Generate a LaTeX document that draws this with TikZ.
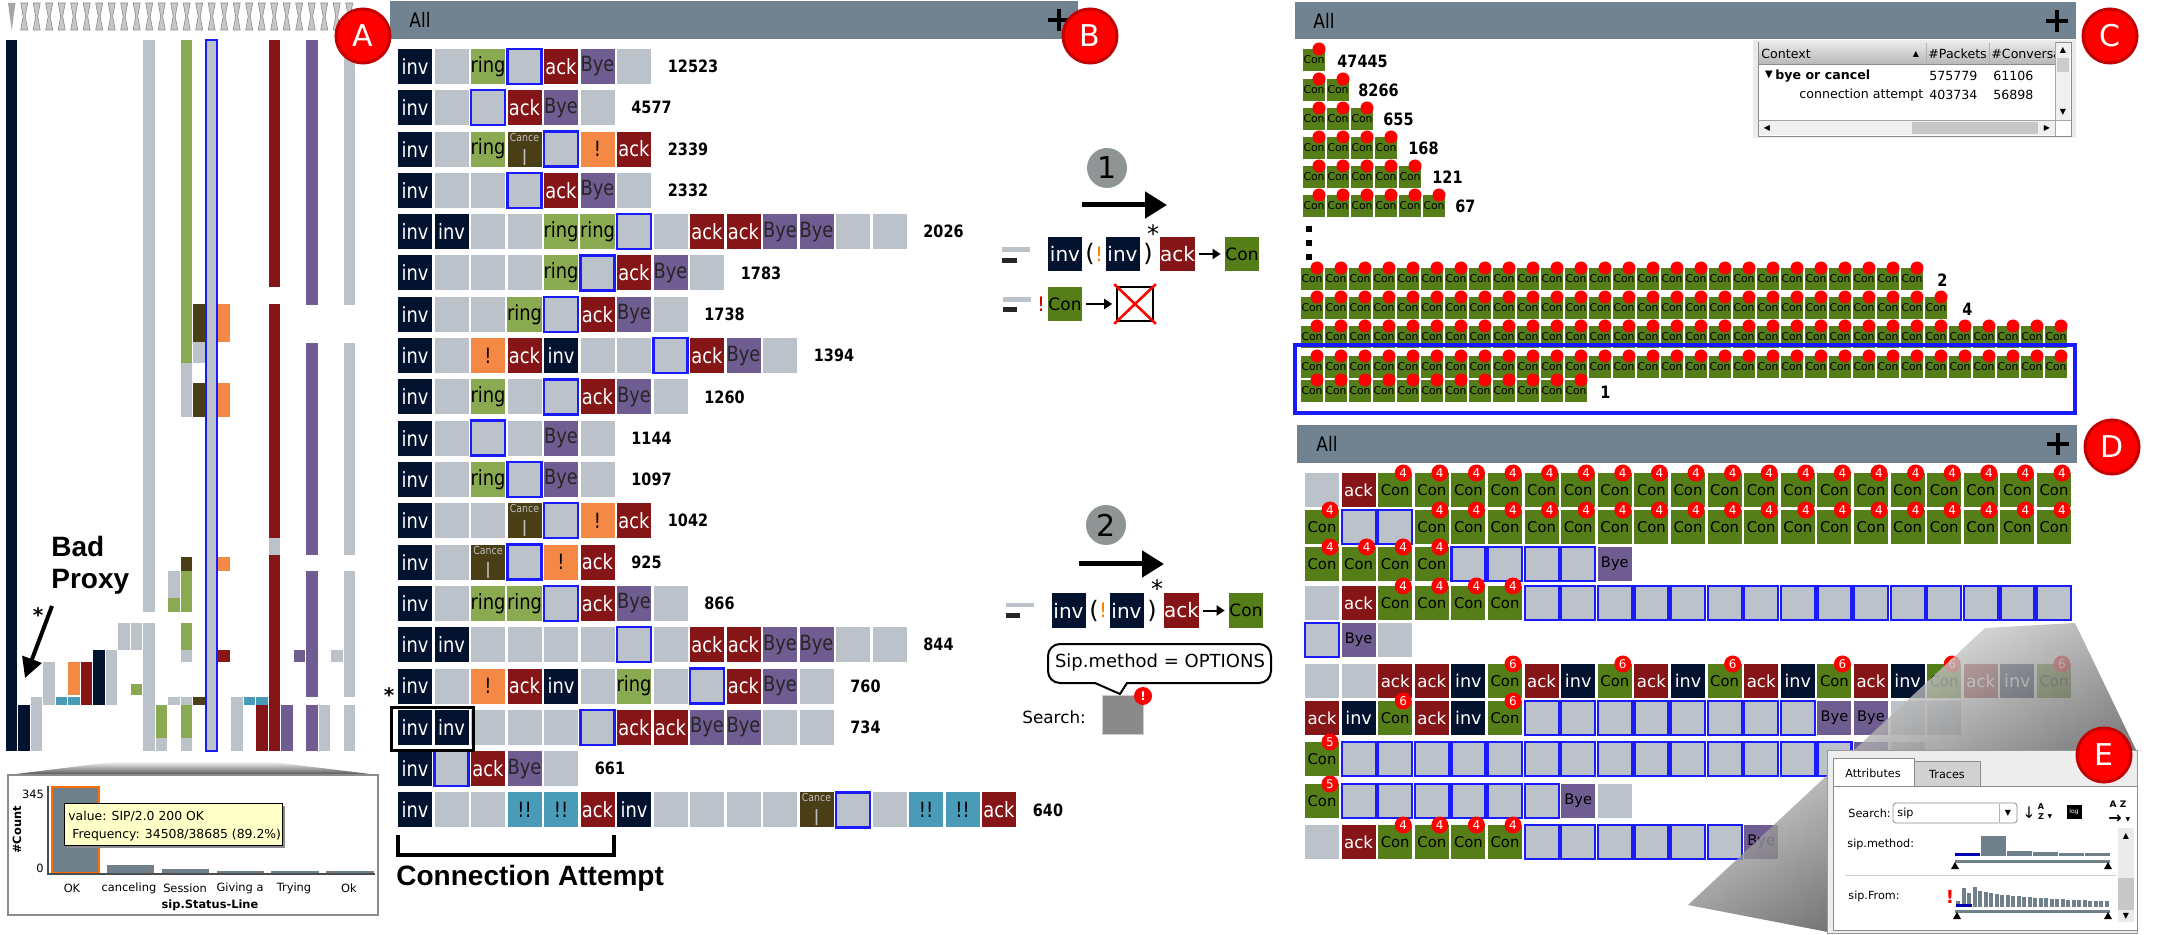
\documentclass[tikz,border=0pt]{standalone}
\usepackage{fontspec}
\setmainfont{DejaVu Sans}
\newfontfamily\cellfont[FakeStretch=0.85]{DejaVu Sans}
\newfontfamily\arialf{Liberation Sans}
\usetikzlibrary{arrows.meta}
\definecolor{cinv}{HTML}{03122F}
\definecolor{cgray}{HTML}{BBC2C9}
\definecolor{cring}{HTML}{8AAA52}
\definecolor{ccan}{HTML}{4A3E16}
\definecolor{cack}{HTML}{861517}
\definecolor{cbye}{HTML}{6F5C91}
\definecolor{cexc}{HTML}{F48945}
\definecolor{cdexc}{HTML}{4A9BB7}
\definecolor{ccon}{HTML}{567E18}
\definecolor{chead}{HTML}{718391}
\definecolor{cblue}{HTML}{1A1AFF}
\definecolor{cred}{HTML}{FF0000}
\definecolor{credd}{HTML}{C40000}
\definecolor{cbar}{HTML}{6F808B}
\definecolor{ctip}{HTML}{FFFFC8}
\definecolor{cnum}{HTML}{8F9494}
\tikzset{
  bcell/.style={minimum width=17pt, minimum height=17.5pt, inner sep=0pt, outer sep=0pt, font={\cellfont\fontsize{10.5}{12}\selectfont}},
  bI/.style={bcell, fill=cinv, text=white, node contents={inv}},
  bG/.style={bcell, fill=cgray, node contents={}},
  bR/.style={bcell, fill=cring, text=black, node contents={ring}},
  bC/.style={bcell, fill=ccan, text=black!25, align=center, node contents={\fontsize{5.5}{6}\selectfont Cance\\l}},
  bS/.style={bcell, fill=cgray, draw=cblue, line width=1.2pt, node contents={}},
  bA/.style={bcell, fill=cack, text=white, node contents={ack}},
  bY/.style={bcell, fill=cbye, text=black!85, node contents={Bye}},
  bX/.style={bcell, fill=cexc, text=black, node contents={!}},
  bT/.style={bcell, fill=cdexc, text=black, node contents={!!}},
  numtxt/.style={inner sep=0pt, font={\cellfont\bfseries\fontsize{8.5}{10}\selectfont}},
  dcell/.style={minimum width=17pt, minimum height=17pt, inner sep=0pt, outer sep=0pt},
  dG/.style={dcell, fill=cgray, node contents={}},
  dS/.style={dcell, fill=cgray, draw=cblue, line width=1.1pt, node contents={}},
  dA/.style={dcell, fill=cack, text=white, font=\fontsize{8.3}{9}\selectfont, node contents={ack}},
  dI/.style={dcell, fill=cinv, text=white, font=\fontsize{8.8}{9}\selectfont, node contents={inv}},
  dY/.style={dcell, fill=cbye, text=black, font=\fontsize{7.3}{8}\selectfont, node contents={Bye}},
  dcon/.style={dcell, fill=ccon, text=black, font=\fontsize{7.4}{8}\selectfont, node contents={Con}},
  badge/.style={circle, fill=cred, text=white, inner sep=0pt, minimum size=8.5pt, font=\fontsize{6}{6}\selectfont, anchor=center, xshift=-4.5pt},
  d4/.style={dcon, label={[badge]north east:4}},
  d5/.style={dcon, label={[badge]north east:5}},
  d6/.style={dcon, label={[badge]north east:6}},
  cdot/.style={circle, fill=cred, inner sep=0pt, minimum size=6.5pt, anchor=center, xshift=-3pt},
  ccell/.style={minimum width=11pt, minimum height=11pt, inner sep=0pt, outer sep=0pt, fill=ccon, text=black, font=\fontsize{5.4}{6}\selectfont, node contents={Con}, label={[cdot]north east:{}}},
  rcell/.style={minimum width=17pt, minimum height=17pt, inner sep=0pt, font=\fontsize{10}{10}\selectfont},
  lbl/.style={circle, fill=cred, draw=credd, line width=1.5pt, minimum size=27pt, inner sep=0pt, text=white, font=\fontsize{15}{15}\selectfont},
  numc/.style={circle, fill=cnum, minimum size=20pt, inner sep=0pt, font=\fontsize{15}{15}\selectfont},
  hdr/.style={inner sep=0pt, anchor=west, font={\cellfont\fontsize{10}{10}\selectfont}},
  tbl/.style={inner sep=0pt, font=\fontsize{6.3}{7}\selectfont},
  small/.style={inner sep=0pt, font=\fontsize{5.7}{6}\selectfont},
  epan/.style={inner sep=0pt, font=\fontsize{5.6}{6}\selectfont},
  bigarrow/.style={line width=2.5pt, -{Triangle[length=11pt,width=13pt]}},
  smallarrow/.style={line width=1pt, -{Triangle[length=4pt,width=5pt]}, shorten <=2pt, shorten >=2pt},
}
\newcommand\brow[4]{%
  \pgfmathsetmacro\ytop{49+41.3*(#1-1)}%
  \foreach \cc [count=\i from 0] in {#2} {\node[b\cc, name=b#1-\i, at={({398+36.5*\i+17},{\ytop+17.5})}];}%
  \node[numtxt, anchor=west] (bn#1) at ({398+36.5*#3+14},{\ytop+17.5}) {#4};%
}
\newcommand\drow[2]{%
  \foreach \cc [count=\i from 0] in {#2} {\node[d\cc, name=d#1-\i, at={({1305+36.6*\i+17},{#1+17})}];}%
}
\newcommand\crow[3]{%
  \foreach \i in {1,...,#3} {\node[ccell, name=c#2-\i, at={({#1+24*(\i-1)+11},{#2+11})}];}%
}
\begin{document}
\begin{tikzpicture}[x=0.5pt,y=-0.5pt]
\useasboundingbox (0,0) rectangle (2159,935);
\fill[white] (0,0) rectangle (2159,935);

% ===== Panel A =====
\fill[black!35] (8,3) -- (15.5,3) -- (11.7,30) -- cycle;
\foreach \k in {1,...,27} {
  \filldraw[fill=black!22, draw=black!45, line width=0.3pt]
    ({11.7+12.5*\k-3.5},3) -- ({11.7+12.5*\k+3.5},3) -- ({11.7+12.5*\k+1},16.5) -- ({11.7+12.5*\k+3.5},30)
    -- ({11.7+12.5*\k-3.5},30) -- ({11.7+12.5*\k-1},16.5) -- cycle;
}
\fill[cinv] (6,40) rectangle (17,751);
\fill[cinv] (18,705) rectangle (30,751);
\fill[cgray] (31,697) rectangle (42,751);
\fill[cgray] (43,662) rectangle (55,705);
\fill[cdexc] (56,697) rectangle (67,705);
\fill[cdexc] (68,697) rectangle (80,705);
\fill[cexc] (68,662) rectangle (80,695);
\fill[cack] (81,662) rectangle (92,705);
\fill[cinv] (93,650) rectangle (105,705);
\fill[cgray] (106,650) rectangle (117,705);
\fill[cgray] (118,623) rectangle (130,650);
\fill[cgray] (131,623) rectangle (142,650);
\fill[cring] (131,684) rectangle (142,695);
\fill[cgray] (143,40) rectangle (155,612);
\fill[cgray] (143,623) rectangle (155,751);
\fill[cring] (156,705) rectangle (167,738);
\fill[cgray] (156,738) rectangle (167,751);
\fill[cgray] (168,571) rectangle (180,598);
\fill[cring] (168,598) rectangle (180,612);
\fill[cgray] (168,697) rectangle (180,705);
\fill[cring] (181,40) rectangle (192,363);
\fill[cgray] (181,363) rectangle (192,417);
\fill[ccan] (181,557) rectangle (192,571);
\fill[cring] (181,571) rectangle (192,612);
\fill[cring] (181,623) rectangle (192,650);
\fill[cgray] (181,650) rectangle (192,662);
\fill[cgray] (181,697) rectangle (192,705);
\fill[cring] (181,705) rectangle (192,738);
\fill[cgray] (181,738) rectangle (192,751);
\fill[ccan] (193,304) rectangle (205,342);
\fill[cgray] (193,342) rectangle (205,363);
\fill[ccan] (193,383) rectangle (205,417);
\fill[ccan] (193,697) rectangle (205,705);
\draw[cblue, fill=cgray, line width=1pt] (206,40) rectangle (217,751);
\fill[cexc] (218,304) rectangle (230,342);
\fill[cexc] (218,383) rectangle (230,417);
\fill[cexc] (218,557) rectangle (230,571);
\fill[cack] (218,650) rectangle (230,662);
\fill[cgray] (231,697) rectangle (243,751);
\fill[cdexc] (244,697) rectangle (255,705);
\fill[cdexc] (256,697) rectangle (268,705);
\fill[cack] (256,705) rectangle (268,751);
\fill[cack] (269,40) rectangle (280,287);
\fill[cack] (269,304) rectangle (280,538);
\fill[cgray] (269,538) rectangle (280,555);
\fill[cack] (269,555) rectangle (280,751);
\fill[cbye] (281,705) rectangle (293,751);
\fill[cbye] (294,650) rectangle (305,662);
\fill[cbye] (306,40) rectangle (318,305);
\fill[cbye] (306,343) rectangle (318,555);
\fill[cbye] (306,571) rectangle (318,697);
\fill[cbye] (306,705) rectangle (318,751);
\fill[cgray] (319,705) rectangle (330,751);
\fill[cgray] (331,650) rectangle (343,662);
\fill[cgray] (344,40) rectangle (355,305);
\fill[cgray] (344,343) rectangle (355,555);
\fill[cgray] (344,571) rectangle (355,697);
\fill[cgray] (344,705) rectangle (355,751);

\node[inner sep=0pt, anchor=west, font={\arialf\bfseries\fontsize{14}{14}\selectfont}] (bad) at (51,546) {Bad};
\node[inner sep=0pt, anchor=west, font={\arialf\bfseries\fontsize{14}{14}\selectfont}] (proxy) at (51,582) {Proxy};
\coordinate (bpS) at (52,606);
\coordinate (bpE) at (25,678);
\draw[line width=2pt, -{Triangle[length=10pt,width=10pt]}] (bpS) -- (bpE);
\node[inner sep=0pt, font=\bfseries\fontsize{10}{10}\selectfont] (bpstar) at (38,615) {*};

% histogram box
\shade[top color=white, bottom color=black!70] (120,761) -- (265,761) -- (378,775) -- (8,775) -- cycle;
\draw[black!45, fill=white, line width=1pt] (8,775) rectangle (378,915);
\fill[cbar] (52,787) rectangle (99,873);
\draw[orange!85!red, line width=0.8pt] (52,787) rectangle (99,873);
\fill[cbar] (107,865) rectangle (154,873);
\fill[cbar] (162,869) rectangle (209,873);
\fill[cbar] (217,871) rectangle (264,873);
\fill[cbar] (271,871) rectangle (319,873);
\fill[cbar] (326,871) rectangle (374,873);
\draw[black!70, line width=1pt] (48,786) -- (48,874) -- (375,874);
\node[small] (h345) at (33,794) {345};
\node[small] (h0) at (40,868) {0};
\node[small, rotate=90, font=\bfseries\fontsize{5.7}{6}\selectfont] (hcount) at (17,830) {\#Count};
\node[small] (hl1) at (72,888) {OK};
\node[small] (hl2) at (129,888) {canceling};
\node[small] (hl3) at (185,888) {Session};
\node[small] (hl4) at (240,888) {Giving a};
\node[small] (hl5) at (294,888) {Trying};
\node[small] (hl6) at (349,888) {Ok};
\node[small, font=\bfseries\fontsize{5.7}{6}\selectfont] (hxl) at (210,905) {sip.Status-Line};
\fill[black!45] (67,806) rectangle (285,848);
\draw[black, fill=ctip, line width=0.5pt] (64,803) rectangle (282,845);
\node[inner sep=0pt, anchor=west, font=\fontsize{6.2}{7}\selectfont] (tip1) at (68,816) {value: SIP/2.0 200 OK};
\node[inner sep=0pt, anchor=west, font=\fontsize{6.2}{7}\selectfont] (tip2) at (72,835) {Frequency: 34508/38685 (89.2\%)};

% ===== Panel B =====
\fill[chead] (390,1) rectangle (1078,39);
\node[hdr] (ballt) at (409,20) {All};
\draw[line width=2pt] (1048,20) -- (1070,20) (1059,9) -- (1059,31);
\brow{1}{I,G,R,S,A,Y,G}{7}{12523}
\brow{2}{I,G,S,A,Y,G}{6}{4577}
\brow{3}{I,G,R,C,S,X,A}{7}{2339}
\brow{4}{I,G,G,S,A,Y,G}{7}{2332}
\brow{5}{I,I,G,G,R,R,S,G,A,A,Y,Y,G,G}{14}{2026}
\brow{6}{I,G,G,G,R,S,A,Y,G}{9}{1783}
\brow{7}{I,G,G,R,S,A,Y,G}{8}{1738}
\brow{8}{I,G,X,A,I,G,G,S,A,Y,G}{11}{1394}
\brow{9}{I,G,R,G,S,A,Y,G}{8}{1260}
\brow{10}{I,G,S,G,Y,G}{6}{1144}
\brow{11}{I,G,R,S,Y,G}{6}{1097}
\brow{12}{I,G,G,C,S,X,A}{7}{1042}
\brow{13}{I,G,C,S,X,A}{6}{925}
\brow{14}{I,G,R,R,S,A,Y,G}{8}{866}
\brow{15}{I,I,G,G,G,G,S,G,A,A,Y,Y,G,G}{14}{844}
\brow{16}{I,G,X,A,I,G,R,G,S,A,Y,G}{12}{760}
\brow{17}{I,I,G,G,G,S,A,A,Y,Y,G,G}{12}{734}
\brow{18}{I,S,A,Y,G}{5}{661}
\brow{19}{I,G,G,T,T,A,I,G,G,G,G,C,S,G,T,T,A}{17}{640}
\node[inner sep=0pt, font=\bfseries\fontsize{10}{10}\selectfont] (bstar) at (389,695) {*};
\draw[line width=1.5pt] (391,707) rectangle (473,750);
\draw[line width=1.6pt] (398,835) -- (398,855) -- (614,855) -- (614,835);
\node[inner sep=0pt, anchor=west, font={\arialf\bfseries\fontsize{14}{14}\selectfont}] (connatt) at (396,878) {Connection Attempt};

% ===== Middle rules =====
\node[numc] (n1) at (1107,168) {1};
\coordinate (a1s) at (1082,205);
\coordinate (a1e) at (1167,205);
\draw[bigarrow] (a1s) -- (a1e);
\fill[cgray] (1002,247) rectangle (1030,252);
\fill[black!85] (1002,258) rectangle (1017,263);
\node[rcell, fill=cinv, text=white] (r1i1) at (1065,254) {inv};
\node[inner sep=0pt, font=\fontsize{12}{12}\selectfont] (r1p1) at (1090,254) {(};
\node[inner sep=0pt, text=orange, font=\fontsize{10}{10}\selectfont] (r1x) at (1099,254) {!};
\node[rcell, fill=cinv, text=white] (r1i2) at (1122.5,254) {inv};
\node[inner sep=0pt, font=\fontsize{12}{12}\selectfont] (r1p2) at (1148,254) {)};
\node[inner sep=0pt, font=\fontsize{12}{12}\selectfont] (r1st) at (1153,234) {*};
\node[rcell, fill=cack, text=white] (r1a) at (1177.5,254) {ack};
\node[rcell, fill=ccon, text=black, font=\fontsize{8.5}{9}\selectfont] (r1c) at (1242,254) {Con};
\draw[smallarrow] (r1a) -- (r1c);
\fill[cgray] (1003,297) rectangle (1031,302);
\fill[black!85] (1003,307) rectangle (1017,312);
\node[inner sep=0pt, text=red!80!black, font=\fontsize{10}{10}\selectfont] (r2x) at (1041,304) {!};
\node[rcell, fill=ccon, text=black, font=\fontsize{8.5}{9}\selectfont] (r2c) at (1065,304) {Con};
\node[draw=black, line width=0.8pt, minimum width=18pt, minimum height=17pt, inner sep=0pt] (r2box) at (1135,304) {};
\draw[smallarrow] (r2c) -- (r2box);
\draw[red, line width=1.3pt] ([shift={(-2,-2)}]r2box.north west) -- ([shift={(2,2)}]r2box.south east)
  ([shift={(2,-2)}]r2box.north east) -- ([shift={(-2,2)}]r2box.south west);

\node[numc] (n2) at (1106,525) {2};
\coordinate (a2s) at (1079,564);
\coordinate (a2e) at (1164,564);
\draw[bigarrow] (a2s) -- (a2e);
\fill[cgray] (1006,603) rectangle (1034,607);
\fill[black!85] (1006,613) rectangle (1020,618);
\node[rcell, fill=cinv, text=white] (r3i1) at (1068.5,610.5) {inv};
\node[inner sep=0pt, font=\fontsize{12}{12}\selectfont] (r3p1) at (1094,610.5) {(};
\node[inner sep=0pt, text=orange, font=\fontsize{10}{10}\selectfont] (r3x) at (1103,610.5) {!};
\node[rcell, fill=cinv, text=white] (r3i2) at (1126.5,610.5) {inv};
\node[inner sep=0pt, font=\fontsize{12}{12}\selectfont] (r3p2) at (1152,610.5) {)};
\node[inner sep=0pt, font=\fontsize{12}{12}\selectfont] (r3st) at (1157,589) {*};
\node[rcell, fill=cack, text=white] (r3a) at (1181.5,610.5) {ack};
\node[rcell, fill=ccon, text=black, font=\fontsize{8.5}{9}\selectfont] (r3c) at (1246,610.5) {Con};
\draw[smallarrow] (r3a) -- (r3c);
\draw[line width=1pt, rounded corners=6pt, fill=white] (1048,644) rectangle (1271,683);
\fill[white] (1096,681) -- (1126,681) -- (1126,684.5) -- (1096,684.5) -- cycle;
\fill[white] (1095,683) -- (1120,694) -- (1127,683) -- cycle;
\draw[line width=1pt] (1095,683) -- (1120,694) -- (1127,683);
\node[inner sep=0pt, font=\fontsize{9}{10}\selectfont] (sipm) at (1160,663) {Sip.method = OPTIONS};
\node[inner sep=0pt, anchor=west, font=\fontsize{8.4}{9}\selectfont] (srch) at (1022,717) {Search:};
\node[fill=black!46, draw=black!20, minimum width=20.5pt, minimum height=19.5pt, inner sep=0pt] (sbox) at (1122.5,714.5) {};
\node[circle, fill=cred, text=white, minimum size=9pt, inner sep=0pt, font=\bfseries\fontsize{6}{6}\selectfont] (sexc) at (1143,696) {!};

% ===== Panel C =====
\fill[chead] (1295,2) rectangle (2076,39);
\node[hdr] (calt) at (1313,21) {All};
\draw[line width=2pt] (2046,21) -- (2068,21) (2057,10) -- (2057,32);
\crow{1303}{49}{1}
\crow{1303}{79}{2}
\crow{1303}{108}{3}
\crow{1303}{137}{4}
\crow{1303}{166}{5}
\crow{1303}{195}{6}
\node[numtxt, anchor=west] (cn1) at (1337,61) {47445};
\node[numtxt, anchor=west] (cn2) at (1358,90) {8266};
\node[numtxt, anchor=west] (cn3) at (1383,119) {655};
\node[numtxt, anchor=west] (cn4) at (1408,148) {168};
\node[numtxt, anchor=west] (cn5) at (1432,177) {121};
\node[numtxt, anchor=west] (cn6) at (1455,206) {67};
\fill[black] (1306,226) rectangle (1312,232);
\fill[black] (1306,240) rectangle (1312,246);
\fill[black] (1306,254) rectangle (1312,260);
\crow{1301}{268}{26}
\crow{1301}{297}{27}
\crow{1301}{326}{32}
\crow{1301}{356}{32}
\crow{1301}{380}{12}
\node[numtxt, anchor=west] (cn7) at (1937,280) {2};
\node[numtxt, anchor=west] (cn8) at (1962,309) {4};
\node[numtxt, anchor=west] (cn9) at (1600,392) {1};
\draw[cblue, line width=1.6pt] (1295,345) rectangle (2075,413);
% context table
\fill[black!8] (1753,40) rectangle (2076,138);
\draw[black!45, fill=white] (1758,42) rectangle (2071,136);
\shade[top color=black!10, bottom color=black!28] (1759,43) rectangle (2055,64);
\draw[black!45] (1758,64) -- (2055,64);
\draw[black!30] (1926,43) -- (1926,64) (1989,43) -- (1989,64);
\begin{scope}
\clip (1758,42) rectangle (2055,136);
\node[tbl, anchor=west] (ctx) at (1761,54) {Context};
\node[tbl, font=\fontsize{4}{4}\selectfont] (ctxs) at (1916,54) {▲};
\node[tbl, anchor=west] (cpk) at (1928,54) {\#Packets};
\node[tbl, anchor=west] (ccv) at (1991,54) {\#Conversa};
\node[tbl, font=\fontsize{5}{5}\selectfont] (ctri) at (1769,75) {▼};
\node[tbl, anchor=west, font=\bfseries\fontsize{6.3}{7}\selectfont] (cbye) at (1775,76) {bye or cancel};
\node[tbl, anchor=west] (cv1) at (1929,76) {575779};
\node[tbl, anchor=west] (cv2) at (1993,76) {61106};
\node[tbl, anchor=west] (cca) at (1799,95) {connection attempt};
\node[tbl, anchor=west] (cv3) at (1929,95) {403734};
\node[tbl, anchor=west] (cv4) at (1993,95) {56898};
\end{scope}
\fill[black!6] (2056,43) rectangle (2070,120);
\draw[black!35] (2055,42) -- (2055,136);
\fill[black!20] (2057,58) rectangle (2069,72);
\node[tbl, font=\fontsize{4}{4}\selectfont] (cup) at (2063,50) {▲};
\node[tbl, font=\fontsize{4}{4}\selectfont] (cdn) at (2063,112) {▼};
\fill[black!6] (1759,121) rectangle (2055,135);
\draw[black!35] (1758,120) -- (2071,120);
\fill[black!22] (1912,122) rectangle (2038,134);
\node[tbl, font=\fontsize{4}{4}\selectfont] (clf) at (1767,128) {◀};
\node[tbl, font=\fontsize{4}{4}\selectfont] (crt) at (2047,128) {▶};

% ===== Panel D =====
\fill[chead] (1297,425) rectangle (2077,463);
\node[hdr] (dalt) at (1316,444) {All};
\draw[line width=2pt] (2047,444) -- (2069,444) (2058,433) -- (2058,455);
\drow{473}{G,A,4,4,4,4,4,4,4,4,4,4,4,4,4,4,4,4,4,4,4}
\drow{510}{4,S,S,4,4,4,4,4,4,4,4,4,4,4,4,4,4,4,4,4,4}
\drow{547}{4,4,4,4,S,S,S,S,Y}
\drow{586}{G,A,4,4,4,4,S,S,S,S,S,S,S,S,S,S,S,S,S,S,S}
\drow{623}{S,Y,G}
\drow{664}{G,G,A,A,I,6,A,I,6,A,I,6,A,I,6,A,I,6,A,I,6}
\drow{701}{A,I,6,A,I,6,S,S,S,S,S,S,S,S,Y,Y,G,G}
\drow{742}{5,S,S,S,S,S,S,S,S,S,S,S,S,S,S,Y,G}
\drow{784}{5,S,S,S,S,S,S,Y,G}
\drow{825}{G,A,4,4,4,4,S,S,S,S,S,S,Y}

% ===== Panel E =====
\shade[top color=white, bottom color=black!90, shading angle=30, fill opacity=0.8]
  (1985,628) -- (2075,623) -- (2137,752) -- (2137,932) -- (1828,932) -- (1688,905) -- cycle;
\draw[black!40, fill=black!7] (1827,750) rectangle (2137,933);
\draw[black!45, fill=white] (1833,786) rectangle (2137,930);
\draw[black!45, fill=black!18] (1914,761) rectangle (1980,786);
\draw[black!45, fill=white] (1833,786) -- (1833,758) -- (1914,758) -- (1914,786);
\node[epan] (etab1) at (1873,773) {Attributes};
\node[epan] (etab2) at (1947,774) {Traces};
\node[epan, anchor=west] (esr) at (1848,813) {Search:};
\draw[black!45, fill=white, rounded corners=1.5pt] (1893,803) rectangle (2017,823);
\draw[black!30] (1999,804) -- (1999,822);
\node[epan, anchor=west] (esip) at (1897,813) {sip};
\node[epan, font=\fontsize{4}{4}\selectfont] (edd) at (2008,813) {▼};
\node[epan, font=\fontsize{8}{8}\selectfont] (esort) at (2029,813) {↓};
\node[epan, font=\bfseries\fontsize{4}{4}\selectfont, align=center] (esaz) at (2041,812) {A\\[1pt]Z};
\node[epan, font=\fontsize{3}{3}\selectfont] (esdd) at (2050,817) {▼};
\node[fill=black, text=white, minimum width=7.5pt, minimum height=7pt, inner sep=0pt, font=\fontsize{3}{3}\selectfont] (elog) at (2074,812) {log};
\node[epan, font=\bfseries\fontsize{4.5}{4.5}\selectfont] (eaz) at (2118,804) {A Z};
\node[epan, font=\bfseries\fontsize{8}{8}\selectfont] (earr) at (2115,819) {→};
\node[epan, font=\fontsize{3}{3}\selectfont] (eadd) at (2128,820) {▼};
\node[epan, anchor=west] (emeth) at (1847,844) {sip.method:};
\fill[blue!70!black] (1955,853) rectangle (1980,856);
\fill[cbar] (1981,836) rectangle (2006,856);
\fill[cbar] (2007,851) rectangle (2032,856);
\fill[cbar] (2033,852) rectangle (2058,856);
\fill[cbar] (2059,853) rectangle (2084,856);
\fill[cbar] (2085,853) rectangle (2110,856);
\fill[cbar] (1955,860) rectangle (2110,863);
\fill[black] (1955,862) -- (1951,869) -- (1959,869) -- cycle;
\fill[black] (2108,862) -- (2104,869) -- (2112,869) -- cycle;
\draw[black!20] (1845,875) -- (2116,875);
\node[epan, anchor=west] (efrom) at (1848,896) {sip.From:};
\node[epan, text=red, font=\bfseries\fontsize{9}{9}\selectfont] (eexc) at (1950,897) {!};
\foreach \h [count=\k from 0] in {6,19,14,20,16,15,14,13,12,12,11,11,10,10,9,9,9,8,8,8,7,7,7,7,6,6,6,6} {
  \fill[cbar] ({1956+5.5*\k},{907-\h}) rectangle ({1956+5.5*\k+4.3},907);
}
\fill[blue!70!black] (1956,904) rectangle (1972,907);
\fill[cbar] (1955,910) rectangle (2110,913);
\fill[black] (1957,912) -- (1953,919) -- (1961,919) -- cycle;
\fill[black] (2108,912) -- (2104,919) -- (2112,919) -- cycle;
\fill[black!8] (2118,828) rectangle (2134,922);
\fill[black!22] (2118,878) rectangle (2134,910);
\node[epan, font=\fontsize{4}{4}\selectfont] (eup) at (2126,836) {▲};
\node[epan, font=\fontsize{4}{4}\selectfont] (edn) at (2126,916) {▼};

% ===== Labels =====
\node[lbl] (la) at (363,36) {A};
\node[lbl] (lb) at (1090,36) {B};
\node[lbl] (lc) at (2110,36) {C};
\node[lbl] (ld) at (2112,447) {D};
\node[lbl] (le) at (2104,755) {E};
\end{tikzpicture}
\end{document}
